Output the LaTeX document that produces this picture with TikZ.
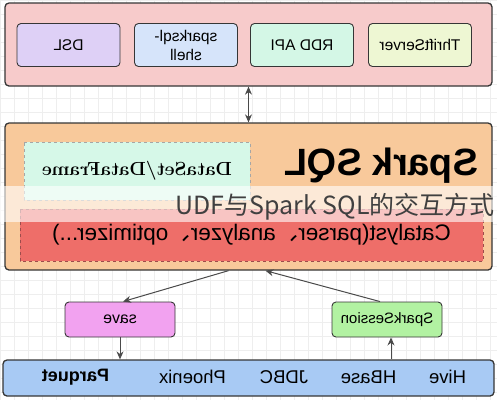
\documentclass[tikz,border=0pt]{standalone}
\usepackage{fontspec}
\usepackage{tikz}
\usetikzlibrary{arrows.meta}
\newfontfamily\arial{Liberation Sans}
\newfontfamily\cjk{Noto Sans CJK SC}

\definecolor{linec}{HTML}{363636}
\definecolor{arrowc}{HTML}{4A4A4A}
\definecolor{gridc}{HTML}{EEEEEE}
\definecolor{clientfill}{HTML}{F7CBCB}
\definecolor{dslfill}{HTML}{DED0F6}
\definecolor{shellfill}{HTML}{D6E4FA}
\definecolor{rddfill}{HTML}{D4F7E6}
\definecolor{thriftfill}{HTML}{EEF7D3}
\definecolor{sqlfill}{HTML}{F8C99B}
\definecolor{dsfill}{HTML}{D6F8E8}
\definecolor{catfill}{HTML}{EE6E69}
\definecolor{savefill}{HTML}{F2A2F0}
\definecolor{sessfill}{HTML}{B2F2A2}
\definecolor{srcfill}{HTML}{A8CAF4}

\begin{document}
\begin{tikzpicture}[x=1pt, y=-1pt, >={Stealth[length=8pt, width=7pt]},
    box/.style={draw=linec, line width=1.3pt, rounded corners=4pt, inner sep=0pt},
    inbox/.style={box, line width=0.9pt, minimum width=103pt, minimum height=43pt,
        xscale=-1, align=center, font=\arial\fontsize{15.5pt}{19pt}\selectfont},
    midbox/.style={box, line width=0.9pt, minimum width=110pt, minimum height=35pt,
        xscale=-1, font=\arial\fontsize{15pt}{18pt}\selectfont},
    dashbox/.style={draw, dashed, line width=0.8pt, inner sep=0pt},
    src/.style={xscale=-1, font=\arial\fontsize{18.5pt}{20pt}\selectfont},
    link/.style={->, draw=arrowc, line width=1pt}]
    \useasboundingbox (0,0) rectangle (497,400);
    \fill[white] (0,0) rectangle (497,400);
    \draw[gridc, line width=0.5pt, step=14pt] (0,0) grid (497,400);

    % clients
    \node[box, fill=clientfill, minimum width=487pt, minimum height=83pt] (client) at (248.5,44.5) {};
    \node[inbox, fill=dslfill] (dsl) at (68.5,45) {DSL};
    \node[inbox, fill=shellfill] (shell) at (186,45) {sparksql-\\shell};
    \node[inbox, fill=rddfill] (rdd) at (302,45) {RDD API};
    \node[inbox, fill=thriftfill] (thrift) at (420,45) {ThriftServer};

    % Spark SQL core
    \node[box, fill=sqlfill, minimum width=487pt, minimum height=147pt] (sparksql) at (248.5,196.5) {};
    \node[xscale=-1, font=\arial\bfseries\fontsize{38pt}{40pt}\selectfont] (sqltitle) at (381,166) {Spark SQL};
    \node[dashbox, draw=gray!70, fill=dsfill, minimum width=226pt, minimum height=58pt,
        xscale=-1, font=\bfseries\fontsize{19pt}{21pt}\selectfont] (dataset) at (137,171) {DataSet/DataFrame};
    \node[dashbox, draw=red!45!black!70, fill=catfill, minimum width=463pt, minimum height=52pt,
        xscale=-1, font=\arial\fontsize{22.5pt}{24pt}\selectfont] (catalyst) at (251.5,235)
        {Catalyst(parser{\cjk 、}analyzer{\cjk 、}optimizer...)};

    \draw[<->, draw=arrowc, line width=1pt] (client.south) -- (sparksql.north);

    % entry / exit
    \node[midbox, fill=savefill, font=\arial\fontsize{16pt}{18pt}\selectfont] (save) at (120,319.5) {save};
    \node[midbox, fill=sessfill] (session) at (387,319.5) {SparkSession};

    % data sources
    \node[box, fill=srcfill, minimum width=491pt, minimum height=36pt] (sources) at (248.5,378) {};
    \node[src, font=\arial\bfseries\fontsize{18pt}{20pt}\selectfont] (parquet) at (75.5,377) {Parquet};
    \node[src] (phoenix) at (192.5,377) {Phoenix};
    \node[src] (jdbc) at (284,377) {JDBC};
    \node[src] (hbase) at (368.5,377) {HBase};
    \node[src] (hive) at (447.5,377) {Hive};

    \draw[link] ([xshift=-20pt]sparksql.south) -- ([xshift=3pt]save.north);
    \draw[link] ([xshift=-7pt]session.north) -- ([xshift=17pt]sparksql.south);
    \draw[link] (save.south) -- (save.south |- sources.north);
    \draw[link] ([xshift=4pt]session.south |- sources.north) -- ([xshift=4pt]session.south);

    % caption band
    \fill[white, opacity=0.6] (0,186) rectangle (497,222);
    \node[anchor=east, text=black!75, font=\cjk\fontsize{25pt}{27pt}\selectfont, inner sep=0pt] (caption) at (495,207) {UDF与Spark SQL的交互方式};
\end{tikzpicture}
\end{document}
